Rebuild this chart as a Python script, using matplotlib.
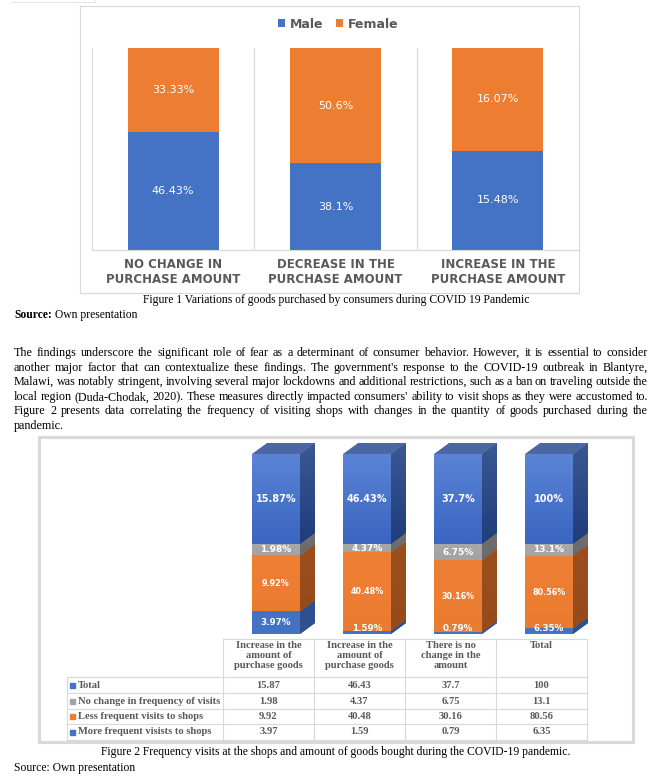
import numpy as np
import matplotlib
matplotlib.use("Agg")
import matplotlib.pyplot as plt
from matplotlib.patches import Rectangle, Polygon
from matplotlib.colors import LinearSegmentedColormap

W, H = 662, 777
SERIF = "Liberation Serif"
GREY_TXT = "#595959"
GRID = "#d9d9d9"

# figure 1: goods purchased, by gender (%)
purchase_cats = ["NO CHANGE IN\nPURCHASE AMOUNT", "DECREASE IN THE\nPURCHASE AMOUNT",
                 "INCREASE IN THE\nPURCHASE AMOUNT"]
male = [46.43, 38.1, 15.48]
female = [33.33, 50.6, 16.07]

# figure 2: frequency of visits vs amount of goods bought (%)
amount_cols = ["Increase in the\namount of\npurchase goods", "Increase in the\namount of\npurchase goods",
               "There is no\nchange in the\namount", "Total"]
more_frequent = [3.97, 1.59, 0.79, 6.35]
less_frequent = [9.92, 40.48, 30.16, 80.56]
no_change = [1.98, 4.37, 6.75, 13.1]
total = [15.87, 46.43, 37.7, 100]
series_names = ["Total", "No change in frequency of visits", "Less frequent visits to shops",
                "More frequent visists to shops"]

caption1 = "Figure 1 Variations of goods purchased by consumers during COVID 19 Pandemic"
caption2 = "Figure 2 Frequency visits at the shops and amount of goods bought during the COVID-19 pandemic."
paragraph = [
    "The findings underscore the significant role of fear as a determinant of consumer behavior. However, it is essential to consider",
    "another major factor that can contextualize these findings. The government's response to the COVID-19 outbreak in Blantyre,",
    "Malawi, was notably stringent, involving several major lockdowns and additional restrictions, such as a ban on traveling outside the",
    "local region (Duda-Chodak, 2020). These measures directly impacted consumers' ability to visit shops as they were accustomed to.",
    "Figure 2 presents data correlating the frequency of visiting shops with changes in the quantity of goods purchased during the",
    "pandemic.",
]


def px_box(x0, y0, x1, y1):
    return [x0 / W, 1 - y1 / H, (x1 - x0) / W, (y1 - y0) / H]


fig = plt.figure(figsize=(W / 100, H / 100), dpi=100)
page = fig.add_axes([0, 0, 1, 1])
page.set_xlim(0, W)
page.set_ylim(H, 0)
page.axis("off")
renderer = fig.canvas.get_renderer()


def width_of(t):
    return t.get_window_extent(renderer).width


# ---------- figure 1 ----------
page.plot([11, 95, 95], [2, 2, -1], color="#e6e6e6", lw=0.8)
page.add_patch(Rectangle((80, 6), 499, 287, fill=False, ec=GRID, lw=0.8))

ax1 = fig.add_axes(px_box(92, 48, 579, 250))
ax1.set_facecolor("none")
x = np.arange(len(male))
tot1 = np.array(male) + np.array(female)
m_sh = np.array(male) / tot1
f_sh = np.array(female) / tot1
ax1.bar(x, m_sh, 0.56, color="#4472c4", label="Male")
ax1.bar(x, f_sh, 0.56, bottom=m_sh, color="#ed7d31", label="Female")
for i in x:
    ax1.text(i, m_sh[i] / 2, f"{male[i]:g}%", ha="center", va="center", color="white", fontsize=8)
    ax1.text(i, m_sh[i] + f_sh[i] / 2, f"{female[i]:g}%", ha="center", va="center",
             color="white", fontsize=8)
ax1.set_xlim(-0.5, 2.5)
ax1.set_ylim(0, 1)
for s in ("top", "right"):
    ax1.spines[s].set_visible(False)
for s in ("left", "bottom"):
    ax1.spines[s].set_color(GRID)
for b in (0.5, 1.5, 2.5):
    ax1.axvline(b, color=GRID, lw=0.8)
ax1.set_yticks([])
ax1.set_xticks(x, purchase_cats, fontsize=8.5, fontweight="bold", color=GREY_TXT, linespacing=1.15)
ax1.tick_params(axis="x", length=0, pad=6)

h1, l1 = ax1.get_legend_handles_labels()
fig.legend(h1, l1, loc="center", bbox_to_anchor=(338 / W, 1 - 24 / H), ncol=2, frameon=False,
           prop=dict(weight="bold", size=9), labelcolor=GREY_TXT, handlelength=0.6,
           handleheight=0.6, handletextpad=0.35, columnspacing=1.0)

# ---------- texts between figures ----------
cap_size = 8.4
body_size = 8.7
page.text(336, 302.5, caption1, ha="center", va="baseline", fontfamily=SERIF, fontsize=cap_size)
src = page.text(14, 318, "Source:", ha="left", va="baseline", fontfamily=SERIF, fontsize=cap_size,
                fontweight="bold")
page.text(14 + width_of(src), 318, " Own presentation", ha="left", va="baseline",
          fontfamily=SERIF, fontsize=cap_size)

x_left, x_right = 14, 648
for k, line in enumerate(paragraph):
    y = 356 + 14.6 * k
    if k == len(paragraph) - 1:
        page.text(x_left, y, line, ha="left", va="baseline", fontfamily=SERIF, fontsize=body_size)
        continue
    words = line.split()
    texts = [page.text(0, y, w_, ha="left", va="baseline", fontfamily=SERIF, fontsize=body_size)
             for w_ in words]
    widths = [width_of(t) for t in texts]
    gap = (x_right - x_left - sum(widths)) / (len(words) - 1)
    pos = x_left
    for t, wd in zip(texts, widths):
        t.set_x(pos)
        pos += wd + gap

# ---------- figure 2 ----------
page.add_patch(Rectangle((39, 437), 594, 305, fill=False, ec=GRID, lw=2.2))

col_w = 91.0
front_h = 180.0
ax2 = fig.add_axes(px_box(223, 437, 610, 634))
ax2.axis("off")
bar_w = 48 / col_w
x_off = (252 - 223) / col_w - 0.5
dx = 15 / col_w
dy = 11 / front_h

series = [more_frequent, less_frequent, no_change, total]
front_cols = [("#4472c4", "#4472c4"), ("#ee8035", "#eb7b2f"), ("#a8a8a8", "#a3a3a3"),
              ("#5b84d6", "#3a66c1")]
side_cols = [("#2f5090", "#2f5090"), ("#9c4f1d", "#964b1b"), ("#707070", "#6a6a6a"),
             ("#3a5894", "#1f3d7a")]
label_sizes = [6.3, 5.8, 6.5, 7]


def shaded(poly_xy, c_top, c_bot, z):
    patch = Polygon(poly_xy, closed=True, fc=c_bot, ec="none", zorder=z)
    ax2.add_patch(patch)
    xs = [p[0] for p in poly_xy]
    ys = [p[1] for p in poly_xy]
    cmap = LinearSegmentedColormap.from_list("g", [c_bot, c_top])
    img = ax2.imshow(np.linspace(0, 1, 64).reshape(-1, 1), extent=[min(xs), max(xs), min(ys), max(ys)],
                     origin="lower", cmap=cmap, aspect="auto", interpolation="bilinear", zorder=z + 0.1)
    img.set_clip_path(patch)


for i in range(len(total)):
    vals = [s[i] for s in series]
    whole = sum(vals)
    bottom = 0.0
    xl = i + x_off
    xr = xl + bar_w
    for k, v in enumerate(vals):
        h = v / whole
        top = bottom + h
        shaded([(xl, bottom), (xr, bottom), (xr, top), (xl, top)], *front_cols[k], 2)
        shaded([(xr, bottom), (xr + dx, bottom + dy), (xr + dx, top + dy), (xr, top)], *side_cols[k], 2)
        ly = bottom + h / 2
        if k == 0:
            ly = max(ly, 0.03)
        ax2.text((xl + xr) / 2, ly, f"{v:g}%", ha="center", va="center", color="white",
                 fontsize=label_sizes[k], fontweight="bold", zorder=5, clip_on=True)
        bottom = top
    ax2.add_patch(Polygon([(xl, bottom), (xr, bottom), (xr + dx, bottom + dy), (xl + dx, bottom + dy)],
                          closed=True, fc="#4a66a3", ec="none", zorder=2))

ax2.set_xlim(-0.5, -0.5 + (610 - 223) / col_w)
ax2.set_ylim(0, (634 - 437) / front_h)

# data table under figure 2
edges = 223 + col_w * np.arange(len(amount_cols) + 1)
rows_y = [639, 677, 693, 709, 724, 740]
tab_left = 67
page.plot([edges[0], edges[-1]], [rows_y[0]] * 2, color=GRID, lw=0.8)
for e in edges:
    page.plot([e, e], [rows_y[0], rows_y[-1]], color=GRID, lw=0.8)
page.plot([tab_left, tab_left], [rows_y[1], rows_y[-1]], color=GRID, lw=0.8)
for yy in rows_y[1:]:
    page.plot([tab_left, edges[-1]], [yy, yy], color=GRID, lw=0.8)

tab_font = dict(fontfamily=SERIF, fontweight="bold", fontsize=7.6, color=GREY_TXT)
for j, lbl in enumerate(amount_cols):
    page.text((edges[j] + edges[j + 1]) / 2, 641, lbl, ha="center", va="top", linespacing=1.12, **tab_font)

table_rows = [total, no_change, less_frequent, more_frequent]
marker_cols = ["#4472c4", "#a5a5a5", "#ed7d31", "#4472c4"]
for r, vals in enumerate(table_rows):
    yc = (rows_y[r + 1] + rows_y[r + 2]) / 2
    page.add_patch(Rectangle((70, yc - 2.5), 5, 5, color=marker_cols[r]))
    page.text(77.5, yc, series_names[r], ha="left", va="center", **tab_font)
    for j, v in enumerate(vals):
        page.text((edges[j] + edges[j + 1]) / 2, yc, f"{v:g}", ha="center", va="center", **tab_font)

page.text(336, 755.5, caption2, ha="center", va="baseline", fontfamily=SERIF, fontsize=cap_size)
page.text(14, 771, "Source: Own presentation", ha="left", va="baseline", fontfamily=SERIF, fontsize=cap_size)

fig.savefig("out.png", dpi=100)
